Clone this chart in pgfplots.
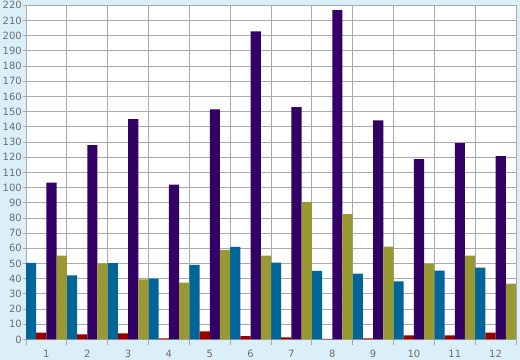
\documentclass[border=0pt]{standalone}
\usepackage{fontspec}
\setmainfont{DejaVu Sans}
\usepackage{pgfplots}
\pgfplotsset{compat=1.18}
\definecolor{bgblue}{RGB}{218,239,247}
\definecolor{gridgray}{RGB}{170,170,170}
\definecolor{labgray}{RGB}{110,110,110}
\definecolor{cblue}{HTML}{006699}
\definecolor{cred}{HTML}{990000}
\definecolor{cpurple}{HTML}{330066}
\definecolor{colive}{HTML}{999933}
\begin{document}
\begin{tikzpicture}
\path[use as bounding box, fill=bgblue] (0,0) rectangle (520bp,360bp);
\begin{axis}[
  at={(26bp,20.5bp)}, anchor=south west,
  scale only axis, width=490bp, height=334.2bp,
  ybar=0pt, bar width=10.21bp,
  xmin=0.5, xmax=12.5, ymin=0, ymax=220,
  xtick={1,...,12},
  minor xtick={0.5,1.5,...,12.5},
  ytick={0,10,...,220},
  major x tick style={draw=none},
  tick align=outside, tick pos=left,
  major tick length=3bp, minor tick length=5bp,
  ymajorgrids, xminorgrids,
  grid style={gridgray, line width=0.9bp},
  minor grid style={gridgray, line width=0.9bp},
  axis line style={gridgray, line width=0.9bp},
  tick style={gridgray, line width=0.9bp},
  axis background/.style={fill=white},
  ticklabel style={font=\fontsize{10bp}{12bp}\selectfont, text=labgray},
  yticklabel style={inner xsep=1bp},
  xticklabel style={yshift=-4bp},
  /pgf/number format/assume math mode=true,
]
\addplot[fill=cblue, draw=none] coordinates {(1,50.4) (2,42.2) (3,50.3) (4,40) (5,49.2) (6,61) (7,50.6) (8,45.2) (9,43.3) (10,38.2) (11,45.3) (12,47.3)};
\addplot[fill=cred, draw=none] coordinates {(1,4.6) (2,3.3) (3,4) (4,0.8) (5,5.3) (6,2.2) (7,1.4) (8,0.4) (9,0.7) (10,2.7) (11,2.7) (12,4.6)};
\addplot[fill=cpurple, draw=none] coordinates {(1,103.3) (2,128) (3,145) (4,102) (5,151.5) (6,202.9) (7,152.9) (8,216.9) (9,144.3) (10,118.7) (11,129.3) (12,120.7)};
\addplot[fill=colive, draw=none] coordinates {(1,55.2) (2,50) (3,39.5) (4,37.4) (5,59) (6,55.2) (7,90.4) (8,82.6) (9,61.1) (10,50) (11,55.2) (12,36.8)};
\end{axis}
\end{tikzpicture}
\end{document}
